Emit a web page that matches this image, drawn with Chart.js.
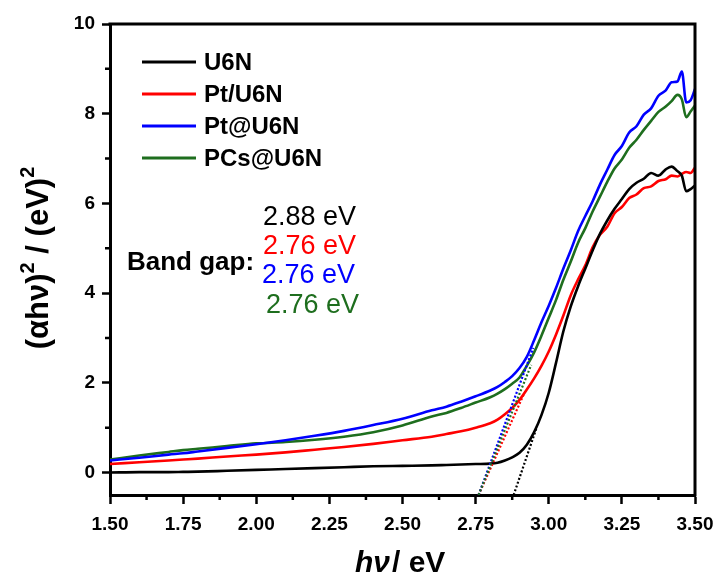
<!DOCTYPE html>
<html>
<head>
<meta charset="utf-8">
<script src="https://cdn.jsdelivr.net/npm/chart.js@4/dist/chart.umd.min.js"></script>
<style>
  html, body { margin: 0; padding: 0; background: #fff; }
  #wrap { width: 717px; height: 578px; }
</style>
</head>
<body>
<div id="wrap"><canvas id="c" width="717" height="578"></canvas></div>
<script>
// Photon energy (eV) sampling shared by all Tauc curves
const photonEnergy = [1.50,1.60,1.70,1.75,1.80,1.90,2.00,2.10,2.20,2.30,
  2.40,2.50,2.60,2.65,2.70,2.75,2.80,2.825,2.85,2.875,
  2.90,2.925,2.95,2.975,3.00,3.025,3.05,3.075,3.10,3.125,
  3.15,3.175,3.20,3.225,3.25,3.275,3.30,3.325,3.35,3.375,
  3.40,3.42,3.44,3.455,3.47,3.485,3.50];

// (αhν)² for each sample
const u6n = [0.00,0.01,0.01,0.015,0.02,0.04,0.06,0.08,0.10,0.12,
  0.14,0.15,0.16,0.17,0.18,0.19,0.20,0.22,0.27,0.34,
  0.44,0.62,0.90,1.28,1.78,2.45,3.15,3.70,4.15,4.55,
  4.95,5.32,5.62,5.88,6.10,6.32,6.46,6.55,6.68,6.62,
  6.76,6.82,6.72,6.62,6.27,6.32,6.40];
const ptU6n = [0.19,0.23,0.27,0.29,0.31,0.36,0.40,0.45,0.51,0.57,
  0.64,0.72,0.80,0.86,0.92,1.00,1.10,1.18,1.30,1.44,
  1.62,1.85,2.10,2.38,2.70,3.08,3.50,3.95,4.30,4.62,
  5.02,5.30,5.48,5.78,5.92,6.12,6.20,6.34,6.38,6.50,
  6.54,6.62,6.60,6.66,6.70,6.68,6.80];
const ptAtU6n = [0.27,0.33,0.40,0.43,0.47,0.55,0.63,0.72,0.82,0.93,
  1.06,1.20,1.39,1.47,1.58,1.70,1.83,1.91,2.02,2.15,
  2.33,2.58,2.95,3.35,3.72,4.12,4.55,4.95,5.38,5.72,
  6.05,6.42,6.75,7.08,7.28,7.58,7.72,7.98,8.12,8.40,
  8.52,8.70,8.72,8.94,8.25,8.30,8.55];
const pcsAtU6n = [0.29,0.38,0.46,0.50,0.53,0.59,0.65,0.68,0.73,0.80,
  0.90,1.05,1.25,1.33,1.44,1.56,1.68,1.76,1.86,1.98,
  2.12,2.38,2.68,3.05,3.45,3.85,4.30,4.70,5.12,5.45,
  5.82,6.15,6.48,6.78,6.98,7.24,7.42,7.64,7.84,8.04,
  8.16,8.28,8.42,8.32,7.92,8.05,8.18];

const seriesNames = ['U6N', 'Pt/U6N', 'Pt@U6N', 'PCs@U6N'];
const seriesColors = ['#000000', '#ff0000', '#0000ff', '#1e6e1e'];
const seriesValues = [u6n, ptU6n, ptAtU6n, pcsAtU6n];

// Band gaps and the upper end of each linear extrapolation
const bandGaps = [2.88, 2.76, 2.76, 2.76];
const tangentEndX = [2.960, 2.915, 2.947, 2.940];
const tangentEndY = [1.03, 1.75, 2.78, 2.40];

// Axis ranges and ticks
const xMin = 1.5, xMax = 3.5;
const yMin = -0.5, yMax = 10;
const xMajorTicks = [1.50, 1.75, 2.00, 2.25, 2.50, 2.75, 3.00, 3.25, 3.50];
const xMinorTicks = [1.625, 1.875, 2.125, 2.375, 2.625, 2.875, 3.125, 3.375];
const yMajorTicks = [0, 2, 4, 6, 8, 10];
const yMinorTicks = [1, 3, 5, 7, 9];

const FONT = '"Liberation Sans", Arial, sans-serif';

const datasets = seriesNames.map((name, i) => ({
  label: name,
  data: photonEnergy.map((x, k) => ({ x: x, y: seriesValues[i][k] })),
  borderColor: seriesColors[i],
  backgroundColor: seriesColors[i],
  borderWidth: 2.6,
  pointRadius: 0,
  cubicInterpolationMode: 'monotone',
  fill: false,
  order: i
}));

// Dotted extrapolations down to the energy axis
bandGaps.forEach((eg, i) => {
  datasets.push({
    label: seriesNames[i] + ' fit',
    data: [{ x: eg, y: yMin }, { x: tangentEndX[i], y: tangentEndY[i] }],
    borderColor: seriesColors[i],
    borderWidth: 2.2,
    borderDash: [2, 2],
    pointRadius: 0,
    fill: false,
    order: -1 - i
  });
});

function drawRuns(ctx, runs, x, y, align) {
  let total = 0;
  runs.forEach(r => { ctx.font = r.font; r.w = ctx.measureText(r.text).width; total += r.w + (r.gap || 0); });
  let cx = align === 'center' ? x - total / 2 : x;
  runs.forEach(r => {
    ctx.font = r.font;
    ctx.fillText(r.text, cx, y + (r.dy || 0));
    cx += r.w + (r.gap || 0);
  });
}

const decorations = {
  id: 'decorations',
  afterDraw(chart) {
    const ctx = chart.ctx;
    const area = chart.chartArea;
    const xs = chart.scales.x, ys = chart.scales.y;
    ctx.save();
    ctx.strokeStyle = '#000';
    ctx.fillStyle = '#000';

    // frame on top and right
    ctx.lineWidth = 3;
    ctx.beginPath();
    ctx.moveTo(area.left - 1.5, area.top);
    ctx.lineTo(area.right, area.top);
    ctx.lineTo(area.right, area.bottom + 1.5);
    ctx.stroke();

    // minor ticks
    ctx.lineWidth = 2.5;
    ctx.beginPath();
    xMinorTicks.forEach(v => {
      const px = xs.getPixelForValue(v);
      ctx.moveTo(px, area.bottom);
      ctx.lineTo(px, area.bottom + 5);
    });
    yMinorTicks.forEach(v => {
      const py = ys.getPixelForValue(v);
      ctx.moveTo(area.left, py);
      ctx.lineTo(area.left - 5, py);
    });
    ctx.stroke();

    // legend
    ctx.textBaseline = 'middle';
    ctx.textAlign = 'left';
    ctx.font = 'bold 24px ' + FONT;
    seriesNames.forEach((name, i) => {
      const ly = 62 + i * 32;
      ctx.strokeStyle = seriesColors[i];
      ctx.lineWidth = 3;
      ctx.beginPath();
      ctx.moveTo(142, ly);
      ctx.lineTo(196, ly);
      ctx.stroke();
      ctx.fillStyle = '#000';
      ctx.fillText(name, 204, ly + 1);
    });

    // band gap annotation
    ctx.textBaseline = 'alphabetic';
    ctx.fillStyle = '#000';
    ctx.font = 'bold 26px ' + FONT;
    ctx.fillText('Band gap:', 127, 270);
    ctx.font = '27px ' + FONT;
    const gapX = [263, 263, 262, 266];
    const gapY = [225, 254, 283, 313];
    bandGaps.forEach((eg, i) => {
      ctx.fillStyle = seriesColors[i];
      ctx.fillText(eg.toFixed(2) + ' eV', gapX[i], gapY[i]);
    });

    // x axis title
    ctx.fillStyle = '#000';
    drawRuns(ctx, [
      { text: 'h\u03BD', font: 'italic bold 30px ' + FONT, gap: 2 },
      { text: '/ eV', font: 'bold 30px ' + FONT }
    ], 355, 572, 'left');

    // y axis title
    ctx.translate(48, 258);
    ctx.rotate(-Math.PI / 2);
    drawRuns(ctx, [
      { text: '(\u03B1h\u03BD)', font: 'bold 31px ' + FONT },
      { text: '2', font: 'bold 20px ' + FONT, dy: -14 },
      { text: ' / (eV)', font: 'bold 31px ' + FONT },
      { text: '2', font: 'bold 20px ' + FONT, dy: -14 }
    ], 0, 0, 'center');
    ctx.restore();
  }
};

new Chart(document.getElementById('c'), {
  type: 'line',
  data: { datasets: datasets },
  options: {
    responsive: false,
    animation: false,
    devicePixelRatio: 1,
    layout: { padding: { left: 0, top: 24, right: 22, bottom: 0 } },
    plugins: { legend: { display: false }, tooltip: { enabled: false } },
    scales: {
      x: {
        type: 'linear',
        min: xMin, max: xMax,
        afterBuildTicks: s => { s.ticks = xMajorTicks.map(v => ({ value: v })); },
        afterFit: s => { s.height = 83; s.paddingLeft = 0; s.paddingRight = 0; },
        ticks: {
          callback: v => Number(v).toFixed(2),
          font: { family: FONT, size: 19, weight: 'bold' },
          color: '#000', padding: 9, maxRotation: 0, autoSkip: false
        },
        grid: { drawOnChartArea: false, drawTicks: true, tickLength: 9, tickWidth: 2.5, tickColor: '#000' },
        border: { display: true, color: '#000', width: 3 }
      },
      y: {
        type: 'linear',
        min: yMin, max: yMax,
        afterBuildTicks: s => { s.ticks = yMajorTicks.map(v => ({ value: v })); },
        afterFit: s => { s.width = 110; s.paddingTop = 0; s.paddingBottom = 0; },
        ticks: {
          callback: v => String(v),
          font: { family: FONT, size: 19, weight: 'bold' },
          color: '#000', padding: 7
        },
        grid: { drawOnChartArea: false, drawTicks: true, tickLength: 8, tickWidth: 2.5, tickColor: '#000' },
        border: { display: true, color: '#000', width: 3 }
      }
    }
  },
  plugins: [decorations]
});
</script>
</body>
</html>
